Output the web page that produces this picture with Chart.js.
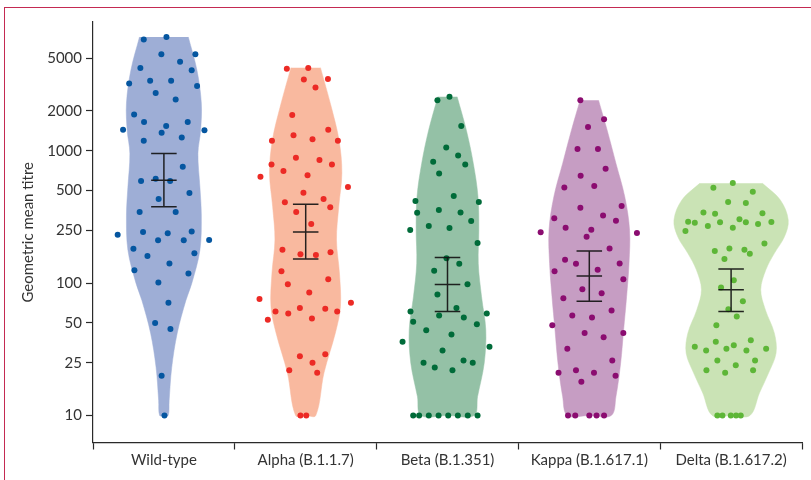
<!DOCTYPE html>
<html>
<head>
<meta charset="utf-8">
<title>Geometric mean titre by variant</title>
<script src="https://cdn.jsdelivr.net/npm/chart.js@4.4.0/dist/chart.umd.min.js"></script>
<style>
    body { margin: 0; background: #fff; }
    #wrap { position: relative; width: 811px; height: 480px; background: #fff; }
    #frame { position: absolute; left: 4px; top: 7px; right: 0; bottom: 0;
             border-left: 1px solid #c42a52; border-top: 1px solid #c42a52; }
    #chart { position: absolute; left: 0; top: 0; }
</style>
</head>
<body>
<div id="wrap">
    <div id="frame"></div>
    <canvas id="chart" width="811" height="480"></canvas>
</div>
<script>

var groups = ["Wild-type", "Alpha (B.1.1.7)", "Beta (B.1.351)", "Kappa (B.1.617.1)", "Delta (B.1.617.2)"];
var yTicks = [10, 25, 50, 100, 250, 500, 1000, 2000, 5000];

// individual titres and their horizontal jitter (in category widths)
var wildTitres = [6930, 7250, 5370, 5370, 4700, 4230, 4060, 3230, 3380, 3380, 3090, 2730, 2440, 1880, 1650, 1650, 1440, 1540, 1370, 1430, 1190, 1260, 757, 591, 615, 591, 480, 432, 345, 345, 232, 243, 238, 246, 212, 211, 211, 182, 160, 168, 141, 125, 118, 101, 71, 50, 45, 20, 10];
var wildJitter = [-0.142, 0.018, -0.018, 0.222, 0.114, -0.166, 0.196, -0.245, -0.097, 0.051, 0.234, -0.058, 0.083, -0.210, -0.140, 0.168, -0.288, 0.016, -0.016, 0.286, -0.142, 0.126, 0.133, -0.161, -0.058, 0.044, 0.180, -0.037, -0.171, 0.083, -0.326, -0.147, 0.027, 0.196, 0.319, -0.041, 0.140, -0.215, -0.116, 0.215, 0.039, -0.208, 0.173, -0.039, 0.032, -0.062, 0.046, -0.016, 0.004];

var alphaTitres = [4160, 4230, 3460, 3490, 3010, 1860, 1440, 1310, 1220, 1190, 1190, 885, 851, 789, 789, 703, 637, 652, 532, 482, 408, 432, 345, 374, 280, 179, 165, 163, 171, 123, 98, 107, 85, 76, 71, 61, 59, 65, 64, 61, 53, 54, 28, 29, 25, 22, 21, 10, 10];
var alphaJitter = [-0.133, 0.018, -0.013, 0.157, 0.069, -0.095, 0.159, -0.086, 0.048, -0.238, 0.227, -0.069, 0.097, -0.241, 0.185, -0.157, -0.319, 0.013, 0.298, -0.016, -0.147, 0.126, -0.067, 0.173, 0.039, -0.164, -0.037, 0.072, 0.175, -0.171, -0.126, 0.159, 0.025, -0.326, 0.319, -0.213, -0.123, -0.041, 0.138, 0.222, -0.267, 0.044, -0.041, 0.138, 0.048, -0.116, 0.081, -0.037, 0.004];

var betaTitres = [2410, 2560, 1540, 1060, 923, 826, 789, 675, 455, 417, 410, 340, 357, 342, 295, 252, 270, 261, 201, 154, 140, 124, 98, 82, 65, 61, 57, 55, 59, 51, 49, 44, 41, 36, 33, 31, 25, 23, 22, 26, 25, 10, 10, 10, 10, 10, 10, 10, 10];
var betaJitter = [-0.071, 0.014, 0.097, -0.009, 0.075, -0.101, 0.125, -0.059, 0.044, -0.226, 0.221, -0.214, -0.061, 0.092, 0.167, -0.263, -0.132, 0.014, 0.212, -0.007, 0.083, -0.094, 0.141, -0.071, 0.063, -0.261, -0.059, 0.115, 0.277, -0.242, 0.207, -0.150, 0.028, -0.317, 0.296, -0.035, -0.169, -0.090, 0.035, 0.113, 0.178, -0.242, -0.200, -0.132, -0.063, 0.005, 0.073, 0.143, 0.212];

var kappaTitres = [2410, 1730, 1510, 1030, 1030, 731, 648, 529, 542, 372, 383, 309, 325, 296, 242, 262, 253, 239, 224, 183, 150, 140, 141, 123, 126, 107, 90, 84, 77, 62, 57, 55, 48, 42, 39, 42, 32, 26, 21, 22, 21, 20, 18, 10, 10, 10, 10, 10];
var kappaJitter = [-0.063, 0.104, -0.009, -0.083, 0.061, 0.115, -0.061, -0.176, 0.035, -0.063, 0.228, -0.247, 0.097, 0.188, -0.343, -0.167, 0.014, 0.336, -0.019, 0.143, -0.171, -0.094, 0.214, -0.245, 0.059, 0.240, -0.049, 0.087, -0.183, 0.157, -0.120, 0.019, -0.261, -0.033, 0.101, 0.240, -0.155, 0.162, -0.217, -0.094, 0.033, 0.185, -0.056, -0.150, -0.099, 0, 0.051, 0.104];

var deltaTitres = [526, 570, 491, 410, 404, 342, 335, 338, 291, 286, 270, 288, 262, 304, 288, 280, 290, 248, 199, 175, 183, 179, 167, 152, 105, 92.5, 73, 63.5, 56, 48, 33, 31, 36, 32, 34, 31, 37, 32, 26, 24, 26, 22, 21, 22, 10, 10, 10, 10, 10];
var deltaJitter = [-0.125, 0.012, 0.153, -0.021, 0.104, -0.195, -0.113, 0.221, -0.303, -0.256, -0.164, -0.078, 0.012, 0.059, 0.104, 0.190, 0.284, -0.322, 0.235, -0.115, -0.012, 0.094, 0.132, -0.047, 0.019, -0.071, 0.083, -0.019, 0.040, -0.104, -0.256, -0.176, -0.108, -0.033, 0.019, 0.108, 0.139, 0.247, -0.097, 0.033, 0.169, -0.174, -0.042, 0.155, -0.097, -0.061, -0.002, 0.035, 0.068];

// geometric mean titre with 95% CI
var gmt = [598, 243, 97.5, 113, 89];
var ciLow = [378, 152, 61, 73, 61];
var ciHigh = [955, 394, 156, 175, 128];

// violin outlines: titre levels (top to bottom) and half density
var wildShapeTitre = [7250, 4060, 2290, 1430, 955, 530, 327, 178, 100, 74, 42, 23, 13, 10];
var wildShapeDensity = [0.172, 0.233, 0.264, 0.259, 0.240, 0.254, 0.264, 0.254, 0.197, 0.155, 0.094, 0.055, 0.037, 0.030];
var alphaShapeTitre = [4250, 2150, 1200, 679, 378, 212, 119, 66.5, 42, 21, 10];
var alphaShapeDensity = [0.104, 0.180, 0.235, 0.255, 0.233, 0.217, 0.238, 0.245, 0.209, 0.129, 0.071];
var betaShapeTitre = [2560, 1430, 803, 450, 252, 141, 79, 44.4, 24.9, 13.9, 10];
var betaShapeDensity = [0.068, 0.133, 0.182, 0.215, 0.221, 0.217, 0.240, 0.270, 0.259, 0.212, 0.188];
var kappaShapeTitre = [2410, 1430, 803, 450, 252, 141, 79, 44.4, 24.9, 13.9, 10];
var kappaShapeDensity = [0.065, 0.126, 0.188, 0.250, 0.284, 0.280, 0.263, 0.242, 0.221, 0.188, 0.155];
var deltaShapeTitre = [568, 425, 300, 224, 168, 126, 89, 62.8, 41.9, 29.6, 20.9, 14.8, 10];
var deltaShapeDensity = [0.221, 0.347, 0.403, 0.376, 0.305, 0.245, 0.209, 0.242, 0.305, 0.317, 0.264, 0.200, 0.133];

var fillColors = ["#9eaed6", "#f9b99f", "#94c1a6", "#c69dc3", "#cae3b5"];
var dotColors = ["#0556a0", "#ec2a25", "#006b39", "#8b0c70", "#5db637"];

var allTitres = [wildTitres, alphaTitres, betaTitres, kappaTitres, deltaTitres];
var allJitter = [wildJitter, alphaJitter, betaJitter, kappaJitter, deltaJitter];
var allShapeTitre = [wildShapeTitre, alphaShapeTitre, betaShapeTitre, kappaShapeTitre, deltaShapeTitre];
var allShapeDensity = [wildShapeDensity, alphaShapeDensity, betaShapeDensity, kappaShapeDensity, deltaShapeDensity];

var capHalf = 0.09;
var textColor = "#333333";
var axisColor = "#2a2a2a";

Chart.defaults.font.family = "Lato, 'Open Sans', sans-serif";
Chart.defaults.font.size = 15;
Chart.defaults.color = textColor;

function violinPoints(i) {
    var levels = allShapeTitre[i];
    var dens = allShapeDensity[i];
    var pts = [];
    // right side top to bottom, then left side bottom to top
    for (var k = 0; k < levels.length; k++) {
        pts.push({x: i + dens[k], y: levels[k]});
    }
    pts.push({x: i, y: levels[levels.length - 1]});
    for (var k = levels.length - 1; k >= 0; k--) {
        pts.push({x: i - dens[k], y: levels[k]});
    }
    return pts;
}

function dotPoints(i) {
    var t = allTitres[i];
    var j = allJitter[i];
    var pts = [];
    for (var k = 0; k < t.length; k++) {
        pts.push({x: i + j[k], y: t[k]});
    }
    return pts;
}

function errorBarPoints() {
    var pts = [];
    for (var i = 0; i < groups.length; i++) {
        pts.push({x: i - capHalf, y: ciHigh[i]}, {x: i + capHalf, y: ciHigh[i]}, {x: i, y: null});
        pts.push({x: i, y: ciHigh[i]}, {x: i, y: ciLow[i]}, {x: i, y: null});
        pts.push({x: i - capHalf, y: ciLow[i]}, {x: i + capHalf, y: ciLow[i]}, {x: i, y: null});
        pts.push({x: i - capHalf, y: gmt[i]}, {x: i + capHalf, y: gmt[i]}, {x: i, y: null});
    }
    return pts;
}

var datasets = [];

for (var i = 0; i < groups.length; i++) {
    datasets.push({
        type: "line",
        label: groups[i] + " violin",
        data: violinPoints(i),
        fill: "shape",
        backgroundColor: fillColors[i],
        borderColor: fillColors[i],
        borderWidth: 0.5,
        tension: 0.35,
        pointRadius: 0,
        order: 3
    });
}

for (var i = 0; i < groups.length; i++) {
    datasets.push({
        type: "scatter",
        label: groups[i],
        data: dotPoints(i),
        backgroundColor: dotColors[i],
        borderWidth: 0,
        pointRadius: 3,
        order: 2
    });
}

datasets.push({
    type: "line",
    label: "GMT (95% CI)",
    data: errorBarPoints(),
    borderColor: "rgba(20,20,20,0.92)",
    borderWidth: 1.5,
    tension: 0,
    spanGaps: false,
    pointRadius: 0,
    fill: false,
    order: 1
});

var myChart = new Chart(document.getElementById("chart"), {
    type: "scatter",
    data: { datasets: datasets },
    options: {
        responsive: false,
        animation: false,
        layout: { padding: { top: 22, right: 9, left: 0, bottom: 0 } },
        plugins: {
            legend: { display: false },
            tooltip: { enabled: false }
        },
        scales: {
            x: {
                type: "linear",
                min: -0.5,
                max: 4.5,
                afterBuildTicks: function(scale) {
                    scale.ticks = groups.map(function(g, i) { return {value: i}; });
                },
                afterFit: function(scale) { scale.height = 37.5; },
                ticks: {
                    autoSkip: false,
                    maxRotation: 0,
                    padding: 1.5,
                    color: textColor,
                    callback: function(value) { return groups[value]; }
                },
                grid: {
                    offset: true,
                    drawOnChartArea: false,
                    tickLength: 7,
                    tickWidth: 1.2,
                    tickColor: axisColor
                },
                border: { color: axisColor, width: 1.2 }
            },
            y: {
                type: "logarithmic",
                min: 6.25,
                max: 9400,
                afterBuildTicks: function(scale) {
                    scale.ticks = yTicks.map(function(v) { return {value: v}; });
                },
                afterFit: function(scale) { scale.width = 93; },
                ticks: {
                    padding: 4,
                    color: textColor,
                    callback: function(value) { return String(value); }
                },
                grid: {
                    drawOnChartArea: false,
                    tickLength: 7,
                    tickWidth: 1.2,
                    tickColor: axisColor
                },
                border: { color: axisColor, width: 1.2 },
                title: {
                    display: true,
                    text: "Geometric mean titre",
                    color: textColor,
                    padding: { top: 19.5, bottom: 0 }
                }
            }
        }
    }
});

</script>
</body>
</html>
